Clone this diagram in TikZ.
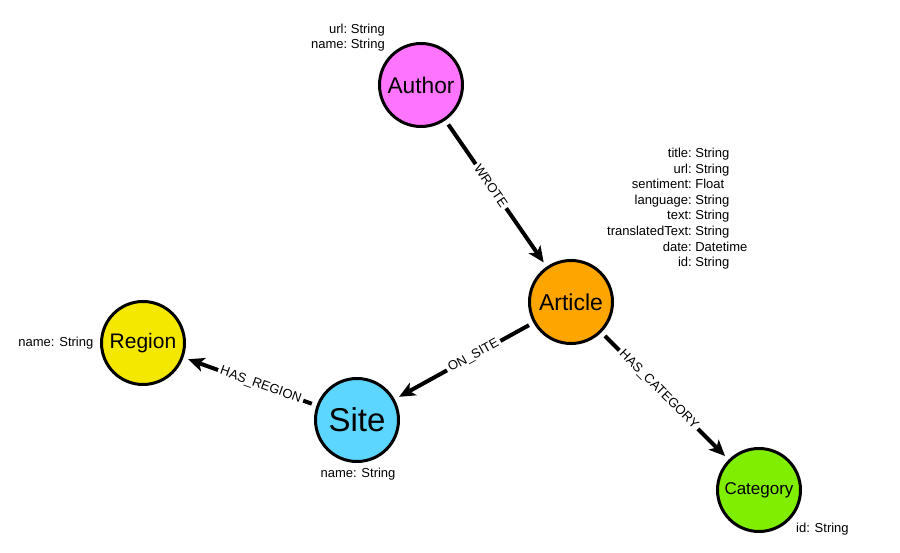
\documentclass[tikz,border=0pt]{standalone}
\usepackage{fontspec}
\setmainfont{Liberation Sans}
\usetikzlibrary{arrows.meta}
\definecolor{cauthor}{RGB}{255,117,255}
\definecolor{carticle}{RGB}{255,165,0}
\definecolor{cregion}{RGB}{245,232,0}
\definecolor{csite}{RGB}{92,214,255}
\definecolor{ccategory}{RGB}{128,238,0}
\begin{document}
\begin{tikzpicture}[x=1pt,y=-1pt,
  entity/.style={circle, draw=black, line width=3pt, minimum size=83pt, inner sep=0pt, text=black},
  rel/.style={line width=4pt, -{Stealth[length=16pt,width=14pt,inset=4pt]}, shorten <=5pt, shorten >=5pt},
  rellabel/.style={sloped, fill=white, inner sep=2.5pt, font=\fontsize{13}{13}\selectfont},
  props/.style={inner sep=0pt, font=\fontsize{13}{15.6}\selectfont}
]
\useasboundingbox[fill=white] (0,0) rectangle (900,553);

\node[entity, fill=cauthor, font=\fontsize{22.7}{24}\selectfont] (author) at (421,85) {Author};
\node[entity, fill=carticle, font=\fontsize{23}{24}\selectfont] (article) at (571,302) {Article};
\node[entity, fill=cregion, font=\fontsize{21}{24}\selectfont] (region) at (143,343) {Region};
\node[entity, fill=csite, font=\fontsize{33}{35}\selectfont] (site) at (357,420) {Site};
\node[entity, fill=ccategory, font=\fontsize{17}{20}\selectfont] (category) at (759,490) {Category};

\node[props, anchor=east] (authorprops) at (385,38) {\begin{tabular}{@{}r@{:\ }l@{}}url&String\\name&String\end{tabular}};
\node[props, anchor=west] (articleprops) at (607,209) {\begin{tabular}{@{}r@{:\ }l@{}}title&String\\url&String\\sentiment&Float\\language&String\\text&String\\translatedText&String\\date&Datetime\\id&String\end{tabular}};
\node[props, anchor=east] (regionprops) at (93.5,343.5) {name: String};
\node[props] (siteprops) at (358,474.5) {name: String};
\node[props, anchor=west] (categoryprops) at (796,529.5) {id: String};

\draw[rel] (author) -- node[rellabel, pos=0.45] (wrote) {WROTE} (article);
\draw[rel] (article) -- node[rellabel, pos=0.43] (onsite) {ON\_SITE} (site);
\draw[rel] (site) -- node[rellabel, pos=0.42] (hasregion) {HAS\_REGION} (region);
\draw[rel] (article) -- node[rellabel, pos=0.45] (hascategory) {HAS\_CATEGORY} (category);
\end{tikzpicture}
\end{document}
